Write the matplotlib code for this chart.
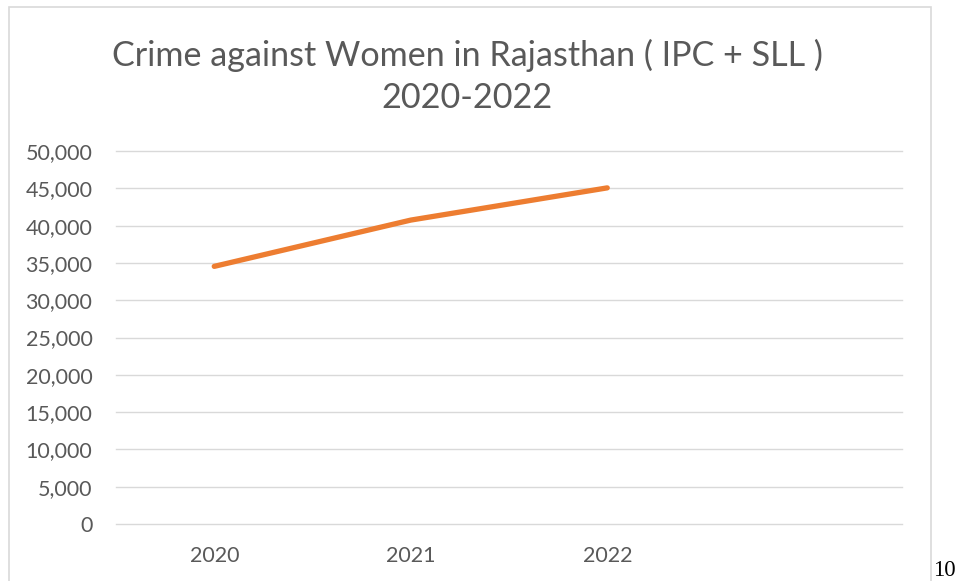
import numpy as np
import matplotlib
matplotlib.use("Agg")
import matplotlib.pyplot as plt
from matplotlib.patches import Rectangle
from matplotlib.ticker import FuncFormatter

# data
years = ["2020", "2021", "2022"]
cases = [34535, 40738, 45058]
y_ticks = list(range(0, 50001, 5000))

plt.rcParams['font.family'] = ['Lato', 'DejaVu Sans']
grey = '#595959'

W, H = 955, 581
fig = plt.figure(figsize=(W / 100, H / 100), dpi=100)

# axes box in pixels: left 116, right 902, y=0 at 524, 50000 at 151
ax = fig.add_axes([116 / W, 1 - 524 / H, (902 - 116) / W, (524 - 151) / H])
x = np.arange(len(years))
ax.plot(x, cases, color='#ED7D31', linewidth=3.8, solid_capstyle='round', zorder=3)

ax.set_xlim(-0.5, 3.5)
ax.set_ylim(0, 50000)
ax.set_yticks(y_ticks)
ax.yaxis.set_major_formatter(FuncFormatter(lambda v, p: f"{int(v):,}"))
ax.set_xticks(x)
ax.set_xticklabels(years)
ax.grid(axis='y', color='#D9D9D9', linewidth=1.0, zorder=0)
for gl in ax.get_ygridlines():
    gl.set_clip_on(False)
for s in ax.spines.values():
    s.set_visible(False)
ax.tick_params(length=0, labelsize=15.5, colors=grey, labelcolor=grey)
ax.tick_params(axis='y', pad=17)
ax.tick_params(axis='x', pad=16)

fig.text(467 / W, 1 - 55 / H, "Crime against Women in Rajasthan ( IPC + SLL )",
         ha='center', va='center', fontsize=24.6, color=grey)
fig.text(467 / W, 1 - 98 / H, "2020-2022",
         ha='center', va='center', fontsize=24.6, color=grey)

# chart frame (bottom edge runs off the page)
fig.patches.append(Rectangle((8.5 / W, -0.05), (931 - 8.5) / W, 1.05 - 7.5 / H,
                             transform=fig.transFigure, fill=False,
                             edgecolor='#D9D9D9', linewidth=1.2))

# page number
fig.text(933 / W, 1 - 576 / H, "10", ha='left', va='baseline', fontsize=16.5,
         family='Liberation Serif', color='black')

fig.savefig("out.png", dpi=100)
